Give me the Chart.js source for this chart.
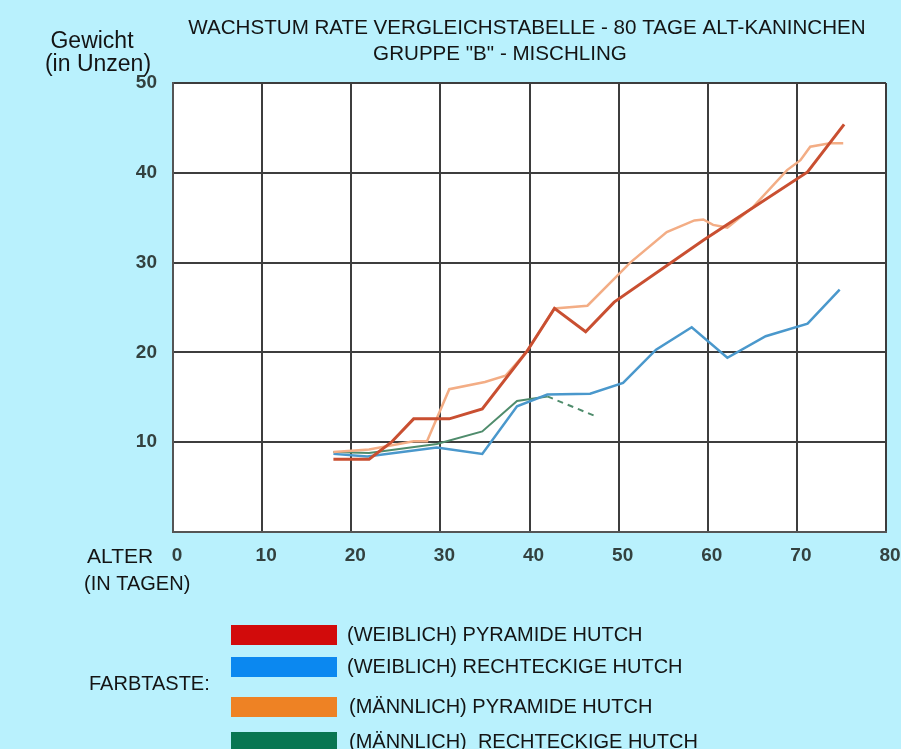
<!DOCTYPE html>
<html>
<head>
<meta charset="utf-8">
<script src="https://cdn.jsdelivr.net/npm/chart.js@4"></script>
<style>
  body { margin: 0; background: #b9f1fd; }
  canvas { display: block; }
</style>
</head>
<body>
<canvas id="miChart" width="901" height="749"></canvas>
<script>
// Daten
const xTicks = [0, 10, 20, 30, 40, 50, 60, 70, 80];
const yTicks = [10, 20, 30, 40, 50];

const labels = ["(WEIBLICH) PYRAMIDE HUTCH", "(WEIBLICH) RECHTECKIGE HUTCH", "(MÄNNLICH) PYRAMIDE HUTCH", "(MÄNNLICH)  RECHTECKIGE HUTCH"];
const legendColors = ["#d20b0b", "#0b88f0", "#ee8224", "#087652"];
const lineColors = ["#c94f31", "#4a98cc", "#f3ad85", "#4f8c6c"];

const weibPyrX = [18, 22, 24.5, 27, 31, 34.7, 39.7, 42.8, 46.3, 49.5, 59.5, 71.2, 75.3];
const weibPyrY = [8.1, 8.1, 10, 12.6, 12.6, 13.7, 20.1, 24.9, 22.3, 25.6, 32.5, 40.1, 45.4];

const weibRechtX = [18, 21.8, 29.6, 34.7, 38.6, 42, 46.8, 50.5, 54.2, 58.2, 62.2, 66.5, 71.2, 74.8];
const weibRechtY = [8.7, 8.4, 9.4, 8.7, 14.0, 15.3, 15.4, 16.6, 20.3, 22.8, 19.4, 21.8, 23.2, 27];

const maennPyrX = [18, 22, 27, 28.5, 31, 35, 37.3, 39.7, 42.8, 46.5, 49.8, 51.3, 55.4, 58.5, 59.5, 60.6, 62.2, 65.1, 68.9, 70.4, 71.5, 73.7, 75.2];
const maennPyrY = [8.9, 9.2, 10.1, 10.1, 15.9, 16.7, 17.4, 20.1, 24.9, 25.2, 28.5, 30, 33.4, 34.7, 34.8, 34.2, 33.9, 36.2, 40.3, 41.4, 42.9, 43.3, 43.3];

const maennRechtX = [18, 22, 29.6, 34.7, 38.6, 42, 47.4];
const maennRechtY = [8.9, 8.8, 9.8, 11.2, 14.6, 15.1, 12.9];
const maennRechtDashFrom = 5; // ab diesem Punkt gestrichelt

// Punkte aus x/y-Arrays bauen
const toPoints = (xs, ys) => xs.map((x, i) => ({ x: x, y: ys[i] }));

const serien = [
    toPoints(weibPyrX, weibPyrY),
    toPoints(weibRechtX, weibRechtY),
    toPoints(maennPyrX, maennPyrY),
    toPoints(maennRechtX, maennRechtY)
];
const breiten = [3, 2.5, 2.5, 2];
const reihenfolge = [1, 3, 2, 4];

const datasets = serien.map((data, i) => ({
    label: labels[i],
    data: data,
    borderColor: lineColors[i],
    borderWidth: breiten[i],
    pointRadius: 0,
    tension: 0,
    order: reihenfolge[i],
    segment: i === 3 ? { borderDash: ctx => ctx.p0DataIndex >= maennRechtDashFrom ? [6, 5] : undefined } : undefined
}));

const FONT = '"Liberation Sans", Arial, sans-serif';

// Texte, Hintergrund und Legende selbst zeichnen
const deko = {
    id: 'deko',
    beforeDraw(chart) {
        const { ctx, chartArea: a } = chart;
        ctx.save();
        ctx.fillStyle = '#ffffff';
        ctx.fillRect(a.left, a.top, a.right - a.left, a.bottom - a.top);
        ctx.restore();
    },
    afterDraw(chart) {
        const ctx = chart.ctx;
        const text = (t, x, y, size, align) => {
            ctx.font = size + 'px ' + FONT;
            ctx.textAlign = align;
            ctx.textBaseline = 'alphabetic';
            ctx.fillText(t, x, y);
        };
        ctx.save();
        ctx.fillStyle = '#141414';
        text('WACHSTUM RATE VERGLEICHSTABELLE - 80 TAGE ALT-KANINCHEN', 527, 34, 20.6, 'center');
        text('GRUPPE "B" - MISCHLING', 500, 60, 20.6, 'center');
        text('Gewicht', 92, 48, 23, 'center');
        text('(in Unzen)', 98, 71, 23, 'center');
        text('ALTER', 87, 563, 21, 'left');
        text('(IN TAGEN)', 84, 590, 20, 'left');
        text('FARBTASTE:', 89, 690, 20, 'left');

        // Legende
        const zeilenY = [625, 657, 697, 732];
        const textX = [347, 347, 349, 349];
        chart.data.datasets.forEach((ds, i) => {
            ctx.fillStyle = legendColors[i];
            ctx.fillRect(231, zeilenY[i], 106, 20);
            ctx.fillStyle = '#141414';
            text(ds.label, textX[i], zeilenY[i] + 16, 20, 'left');
        });
        ctx.restore();
    }
};

const tickFont = { family: FONT, size: 19, weight: 'bold' };

new Chart(document.querySelector('#miChart'), {
    type: 'line',
    data: { datasets: datasets },
    options: {
        responsive: false,
        animation: false,
        layout: { padding: { left: 0, top: 83, right: 15, bottom: 0 } },
        plugins: { legend: { display: false }, tooltip: { enabled: false } },
        scales: {
            x: {
                type: 'linear',
                min: 0, max: 80,
                afterFit: s => { s.height = 217; s.paddingLeft = 0; s.paddingRight = 0; },
                afterBuildTicks: s => { s.ticks = xTicks.map(v => ({ value: v })); },
                ticks: { color: '#33413f', font: tickFont, padding: 12, labelOffset: 4 },
                grid: { color: '#3d3d3d', lineWidth: 2, drawTicks: false },
                border: { color: '#555555', width: 2 }
            },
            y: {
                type: 'linear',
                min: 0, max: 50,
                afterFit: s => { s.width = 173; s.paddingTop = 0; s.paddingBottom = 0; },
                afterBuildTicks: s => { s.ticks = [0].concat(yTicks).map(v => ({ value: v })); },
                ticks: { color: '#33413f', font: tickFont, padding: 16, callback: v => v === 0 ? '' : v },
                grid: { color: '#3d3d3d', lineWidth: 2, drawTicks: false },
                border: { color: '#555555', width: 2 }
            }
        }
    },
    plugins: [deko]
});
</script>
</body>
</html>
